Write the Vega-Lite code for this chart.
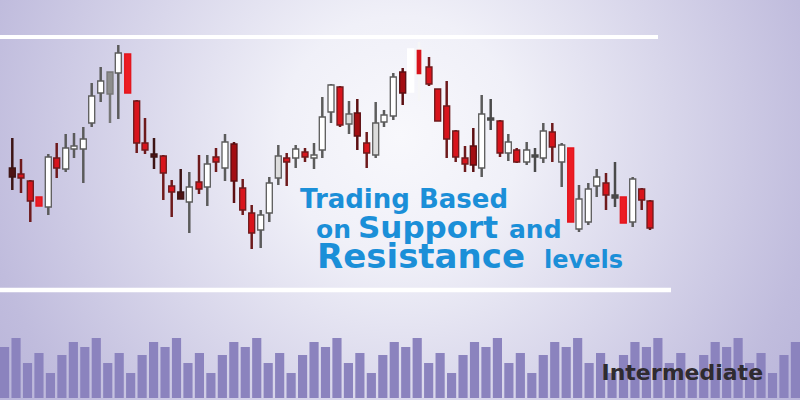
{
  "$schema": "https://vega.github.io/schema/vega-lite/v6.json",
  "width": 800,
  "height": 400,
  "autosize": {"type": "none"},
  "padding": 0,
  "layer": [
    {
      "data": {"values": [{}]},
      "mark": {
        "type": "rect",
        "color": {
          "gradient": "radial",
          "x1": 0.5, "y1": 0.42, "r1": 0,
          "x2": 0.5, "y2": 0.42, "r2": 0.75,
          "stops": [
            {"offset": 0, "color": "#f8f8fc"},
            {"offset": 0.2, "color": "#f0f0f8"},
            {"offset": 0.7, "color": "#c0bcdd"},
            {"offset": 1, "color": "#aca7d3"}
          ]
        }
      },
      "encoding": {}
    },
    {
      "data": {
        "values": [
          {"i": 1, "v": 51}, {"i": 2, "v": 60}, {"i": 3, "v": 35}, {"i": 4, "v": 45}, {"i": 5, "v": 25}, {"i": 6, "v": 43}, {"i": 7, "v": 56},
          {"i": 8, "v": 51}, {"i": 9, "v": 60}, {"i": 10, "v": 35}, {"i": 11, "v": 45}, {"i": 12, "v": 25}, {"i": 13, "v": 43}, {"i": 14, "v": 56},
          {"i": 15, "v": 51}, {"i": 16, "v": 60}, {"i": 17, "v": 35}, {"i": 18, "v": 45}, {"i": 19, "v": 25}, {"i": 20, "v": 43}, {"i": 21, "v": 56},
          {"i": 22, "v": 51}, {"i": 23, "v": 60}, {"i": 24, "v": 35}, {"i": 25, "v": 45}, {"i": 26, "v": 25}, {"i": 27, "v": 43}, {"i": 28, "v": 56},
          {"i": 29, "v": 51}, {"i": 30, "v": 60}, {"i": 31, "v": 35}, {"i": 32, "v": 45}, {"i": 33, "v": 25}, {"i": 34, "v": 43}, {"i": 35, "v": 56},
          {"i": 36, "v": 51}, {"i": 37, "v": 60}, {"i": 38, "v": 35}, {"i": 39, "v": 45}, {"i": 40, "v": 25}, {"i": 41, "v": 43}, {"i": 42, "v": 56},
          {"i": 43, "v": 51}, {"i": 44, "v": 60}, {"i": 45, "v": 35}, {"i": 46, "v": 45}, {"i": 47, "v": 25}, {"i": 48, "v": 43}, {"i": 49, "v": 56},
          {"i": 50, "v": 51}, {"i": 51, "v": 60}, {"i": 52, "v": 35}, {"i": 53, "v": 45}, {"i": 54, "v": 25}, {"i": 55, "v": 43}, {"i": 56, "v": 56},
          {"i": 57, "v": 51}, {"i": 58, "v": 60}, {"i": 59, "v": 35}, {"i": 60, "v": 45}, {"i": 61, "v": 25}, {"i": 62, "v": 43}, {"i": 63, "v": 56},
          {"i": 64, "v": 51}, {"i": 65, "v": 60}, {"i": 66, "v": 35}, {"i": 67, "v": 45}, {"i": 68, "v": 25}, {"i": 69, "v": 43}, {"i": 70, "v": 56}
        ]
      },
      "mark": {"type": "bar", "color": "#8b83be"},
      "encoding": {
        "x": {"field": "i", "type": "ordinal", "axis": null, "sort": null, "scale": {"paddingInner": 0.2, "paddingOuter": 0}},
        "y": {"field": "v", "type": "quantitative", "axis": null, "scale": {"domain": [-2, 398], "nice": false, "zero": false, "padding": 0}}
      }
    },
    {
      "layer": [
        {
          "data": {"values": [{}]},
          "mark": {"type": "rule", "color": "#ffffff", "strokeWidth": 4},
          "encoding": {
            "x": {"datum": 0, "type": "quantitative"},
            "x2": {"datum": 658},
            "y": {"datum": 363, "type": "quantitative"}
          }
        },
        {
          "data": {"values": [{}]},
          "mark": {"type": "rule", "color": "#ffffff", "strokeWidth": 4.5},
          "encoding": {
            "x": {"datum": 0, "type": "quantitative"},
            "x2": {"datum": 671},
            "y": {"datum": 110, "type": "quantitative"}
          }
        },
        {
          "data": {"name": "candles"},
          "mark": {"type": "rule", "strokeWidth": 2.5},
          "encoding": {
            "x": {"field": "t", "type": "quantitative", "axis": null, "scale": {"domain": [0, 800], "nice": false, "zero": false, "padding": 0}},
            "y": {"field": "hi", "type": "quantitative", "axis": null, "scale": {"domain": [0, 400], "nice": false, "zero": false, "padding": 0}},
            "y2": {"field": "lo"},
            "stroke": {"field": "k", "type": "nominal", "legend": null, "scale": {
              "domain": ["W", "R", "D", "B", "G", "L", "P", "X", "RW", "K"],
              "range": ["#5b5b5b", "#6e1a1c", "#5c0f12", "#3d1414", "#777777", "#5e5e5e", "#e3141c", "#ffffff", "#f6f6f6", "#4a4a4a"]
            }}
          }
        },
        {
          "data": {"name": "candles"},
          "mark": {"type": "bar", "strokeWidth": 1.3},
          "encoding": {
            "x": {"field": "t", "type": "quantitative"},
            "y": {"field": "o", "type": "quantitative"},
            "y2": {"field": "c"},
            "fill": {"field": "k", "type": "nominal", "legend": null, "scale": {
              "domain": ["W", "R", "D", "B", "G", "L", "P", "X", "RW", "K"],
              "range": ["#ffffff", "#d8141c", "#a30d12", "#4e1313", "#8d8d8d", "#dcdcdc", "#ec1c24", "#ffffff", "#d8141c", "#4a4a4a"]
            }},
            "stroke": {"field": "k", "type": "nominal"},
            "size": {"field": "k", "type": "nominal", "legend": null, "scale": {
              "domain": ["W", "R", "D", "B", "G", "L", "P", "X", "RW", "K"],
              "range": [6, 6, 6, 6, 6, 6, 5, 3, 6, 6]
            }}
          }
        },
        {
          "data": {"values": [{"label": "Trading Based"}]},
          "mark": {"type": "text", "font": "DejaVu Sans", "fontWeight": "bold", "fontSize": 26, "color": "#1b8fd8", "align": "left", "baseline": "alphabetic"},
          "encoding": {"x": {"datum": 300, "type": "quantitative"}, "y": {"datum": 192, "type": "quantitative"}, "text": {"field": "label"}}
        },
        {
          "data": {"values": [{"label": "on"}]},
          "mark": {"type": "text", "font": "DejaVu Sans", "fontWeight": "bold", "fontSize": 25, "color": "#1b8fd8", "align": "left", "baseline": "alphabetic"},
          "encoding": {"x": {"datum": 316, "type": "quantitative"}, "y": {"datum": 162.5, "type": "quantitative"}, "text": {"field": "label"}}
        },
        {
          "data": {"values": [{"label": "Support"}]},
          "mark": {"type": "text", "font": "DejaVu Sans", "fontWeight": "bold", "fontSize": 31, "color": "#1b8fd8", "align": "left", "baseline": "alphabetic"},
          "encoding": {"x": {"datum": 358, "type": "quantitative"}, "y": {"datum": 162.5, "type": "quantitative"}, "text": {"field": "label"}}
        },
        {
          "data": {"values": [{"label": "and"}]},
          "mark": {"type": "text", "font": "DejaVu Sans", "fontWeight": "bold", "fontSize": 25, "color": "#1b8fd8", "align": "left", "baseline": "alphabetic"},
          "encoding": {"x": {"datum": 509, "type": "quantitative"}, "y": {"datum": 162.5, "type": "quantitative"}, "text": {"field": "label"}}
        },
        {
          "data": {"values": [{"label": "Resistance"}]},
          "mark": {"type": "text", "font": "DejaVu Sans", "fontWeight": "bold", "fontSize": 34, "color": "#1b8fd8", "align": "left", "baseline": "alphabetic"},
          "encoding": {"x": {"datum": 317, "type": "quantitative"}, "y": {"datum": 132.5, "type": "quantitative"}, "text": {"field": "label"}}
        },
        {
          "data": {"values": [{"label": "levels"}]},
          "mark": {"type": "text", "font": "DejaVu Sans", "fontWeight": "bold", "fontSize": 24, "color": "#1b8fd8", "align": "left", "baseline": "alphabetic"},
          "encoding": {"x": {"datum": 544, "type": "quantitative"}, "y": {"datum": 132.5, "type": "quantitative"}, "text": {"field": "label"}}
        },
        {
          "data": {"values": [{"label": "Intermediate"}]},
          "mark": {"type": "text", "font": "DejaVu Sans", "fontWeight": "bold", "fontSize": 22, "color": "#2f2b30", "align": "left", "baseline": "alphabetic"},
          "encoding": {"x": {"datum": 601.5, "type": "quantitative"}, "y": {"datum": 20, "type": "quantitative"}, "text": {"field": "label"}}
        }
      ]
    }
  ],
  "datasets": {
    "candles": [
      {"t": 12.3, "hi": 262, "lo": 210, "o": 232, "c": 223, "k": "B"},
      {"t": 21, "hi": 241, "lo": 207, "o": 226, "c": 222, "k": "R"},
      {"t": 30.3, "hi": 220, "lo": 178, "o": 219, "c": 199, "k": "R"},
      {"t": 39, "hi": 203, "lo": 194, "o": 203, "c": 194, "k": "P"},
      {"t": 48.3, "hi": 246, "lo": 185, "o": 193, "c": 243, "k": "W"},
      {"t": 56.7, "hi": 257, "lo": 222, "o": 242, "c": 232, "k": "R"},
      {"t": 65.7, "hi": 266, "lo": 228, "o": 231, "c": 252, "k": "W"},
      {"t": 74, "hi": 267, "lo": 242, "o": 251, "c": 254, "k": "W"},
      {"t": 83.3, "hi": 273, "lo": 217, "o": 251, "c": 261, "k": "W"},
      {"t": 91.7, "hi": 317, "lo": 273, "o": 277, "c": 304, "k": "W"},
      {"t": 100.7, "hi": 333, "lo": 298, "o": 307, "c": 319, "k": "W"},
      {"t": 110, "hi": 328, "lo": 277, "o": 306, "c": 328, "k": "G"},
      {"t": 118.3, "hi": 355, "lo": 281, "o": 327, "c": 347, "k": "W"},
      {"t": 127.7, "hi": 346, "lo": 307, "o": 346, "c": 307, "k": "P"},
      {"t": 136.7, "hi": 300, "lo": 247, "o": 299, "c": 257, "k": "R"},
      {"t": 145, "hi": 282, "lo": 246, "o": 257, "c": 250, "k": "R"},
      {"t": 154, "hi": 262, "lo": 231, "o": 246, "c": 243, "k": "B"},
      {"t": 163.3, "hi": 245, "lo": 200, "o": 244, "c": 227, "k": "R"},
      {"t": 171.7, "hi": 220, "lo": 183, "o": 214, "c": 208, "k": "R"},
      {"t": 180.7, "hi": 231, "lo": 201, "o": 208, "c": 201, "k": "B"},
      {"t": 189.3, "hi": 228, "lo": 167, "o": 198, "c": 213, "k": "W"},
      {"t": 199, "hi": 245, "lo": 206, "o": 218, "c": 211, "k": "R"},
      {"t": 207.3, "hi": 245, "lo": 194, "o": 213, "c": 236, "k": "W"},
      {"t": 216, "hi": 252, "lo": 228, "o": 243, "c": 238, "k": "R"},
      {"t": 225, "hi": 266, "lo": 219, "o": 232, "c": 258, "k": "W"},
      {"t": 234, "hi": 258, "lo": 197, "o": 256, "c": 219, "k": "D"},
      {"t": 242.7, "hi": 221, "lo": 185, "o": 212, "c": 190, "k": "R"},
      {"t": 251.7, "hi": 195, "lo": 151, "o": 187, "c": 167, "k": "R"},
      {"t": 260.7, "hi": 190, "lo": 152, "o": 170, "c": 185, "k": "W"},
      {"t": 269.3, "hi": 223, "lo": 178, "o": 187, "c": 217, "k": "W"},
      {"t": 278.3, "hi": 255, "lo": 215, "o": 222, "c": 244, "k": "L"},
      {"t": 286.7, "hi": 247, "lo": 214, "o": 242, "c": 238, "k": "R"},
      {"t": 295.7, "hi": 255, "lo": 232, "o": 242, "c": 251, "k": "W"},
      {"t": 305, "hi": 252, "lo": 238, "o": 248, "c": 243, "k": "R"},
      {"t": 314, "hi": 257, "lo": 231, "o": 242, "c": 245, "k": "W"},
      {"t": 322.3, "hi": 303, "lo": 242, "o": 250, "c": 283, "k": "W"},
      {"t": 331, "hi": 316, "lo": 277, "o": 288, "c": 315, "k": "W"},
      {"t": 340, "hi": 314, "lo": 273, "o": 313, "c": 275, "k": "R"},
      {"t": 349, "hi": 299, "lo": 266, "o": 276, "c": 286, "k": "L"},
      {"t": 357.3, "hi": 301, "lo": 250, "o": 287, "c": 264, "k": "D"},
      {"t": 366.7, "hi": 268, "lo": 232, "o": 257, "c": 247, "k": "R"},
      {"t": 375.7, "hi": 298, "lo": 242, "o": 245, "c": 277, "k": "L"},
      {"t": 384, "hi": 290, "lo": 273, "o": 278, "c": 285, "k": "W"},
      {"t": 393.3, "hi": 327, "lo": 280, "o": 284, "c": 323, "k": "W"},
      {"t": 402.7, "hi": 332, "lo": 295, "o": 328, "c": 307, "k": "D"},
      {"t": 410.7, "hi": 351, "lo": 308, "o": 308, "c": 351, "k": "X"},
      {"t": 419, "hi": 358, "lo": 299, "o": 351, "c": 325, "k": "RW"},
      {"t": 429, "hi": 343, "lo": 314, "o": 333, "c": 316, "k": "R"},
      {"t": 437.7, "hi": 311, "lo": 279, "o": 311, "c": 279, "k": "R"},
      {"t": 446.7, "hi": 319, "lo": 242, "o": 294, "c": 261, "k": "R"},
      {"t": 455.7, "hi": 270, "lo": 238, "o": 269, "c": 243, "k": "R"},
      {"t": 465, "hi": 254, "lo": 228, "o": 242, "c": 236, "k": "R"},
      {"t": 473.3, "hi": 272, "lo": 228, "o": 254, "c": 235, "k": "D"},
      {"t": 481.7, "hi": 305, "lo": 223, "o": 232, "c": 286, "k": "W"},
      {"t": 490.7, "hi": 301, "lo": 270, "o": 282, "c": 280, "k": "K"},
      {"t": 500, "hi": 280, "lo": 243, "o": 279, "c": 247, "k": "R"},
      {"t": 508.3, "hi": 266, "lo": 239, "o": 247, "c": 258, "k": "W"},
      {"t": 516.7, "hi": 252, "lo": 237, "o": 250, "c": 238, "k": "R"},
      {"t": 526.7, "hi": 258, "lo": 235, "o": 238, "c": 250, "k": "W"},
      {"t": 535, "hi": 252, "lo": 228, "o": 245, "c": 243, "k": "K"},
      {"t": 543.3, "hi": 277, "lo": 237, "o": 242, "c": 269, "k": "W"},
      {"t": 552.3, "hi": 277, "lo": 238, "o": 268, "c": 253, "k": "R"},
      {"t": 561.7, "hi": 257, "lo": 213, "o": 238, "c": 255, "k": "W"},
      {"t": 570.7, "hi": 252, "lo": 178, "o": 252, "c": 178, "k": "P"},
      {"t": 579, "hi": 215, "lo": 168, "o": 171, "c": 201, "k": "W"},
      {"t": 588.3, "hi": 217, "lo": 175, "o": 178, "c": 211, "k": "W"},
      {"t": 596.7, "hi": 231, "lo": 203, "o": 214, "c": 223, "k": "W"},
      {"t": 606, "hi": 227, "lo": 190, "o": 217, "c": 205, "k": "R"},
      {"t": 615, "hi": 238, "lo": 193, "o": 205, "c": 202, "k": "K"},
      {"t": 623.3, "hi": 203, "lo": 177, "o": 203, "c": 177, "k": "P"},
      {"t": 632.7, "hi": 223, "lo": 173, "o": 178, "c": 221, "k": "W"},
      {"t": 641.7, "hi": 212, "lo": 190, "o": 211, "c": 200, "k": "R"},
      {"t": 650, "hi": 200, "lo": 170, "o": 199, "c": 172, "k": "R"}
    ]
  },
  "resolve": {"scale": {"x": "independent", "y": "independent"}},
  "config": {
    "view": {"stroke": null},
    "axis": {"disable": true},
    "legend": {"disable": true}
  }
}
